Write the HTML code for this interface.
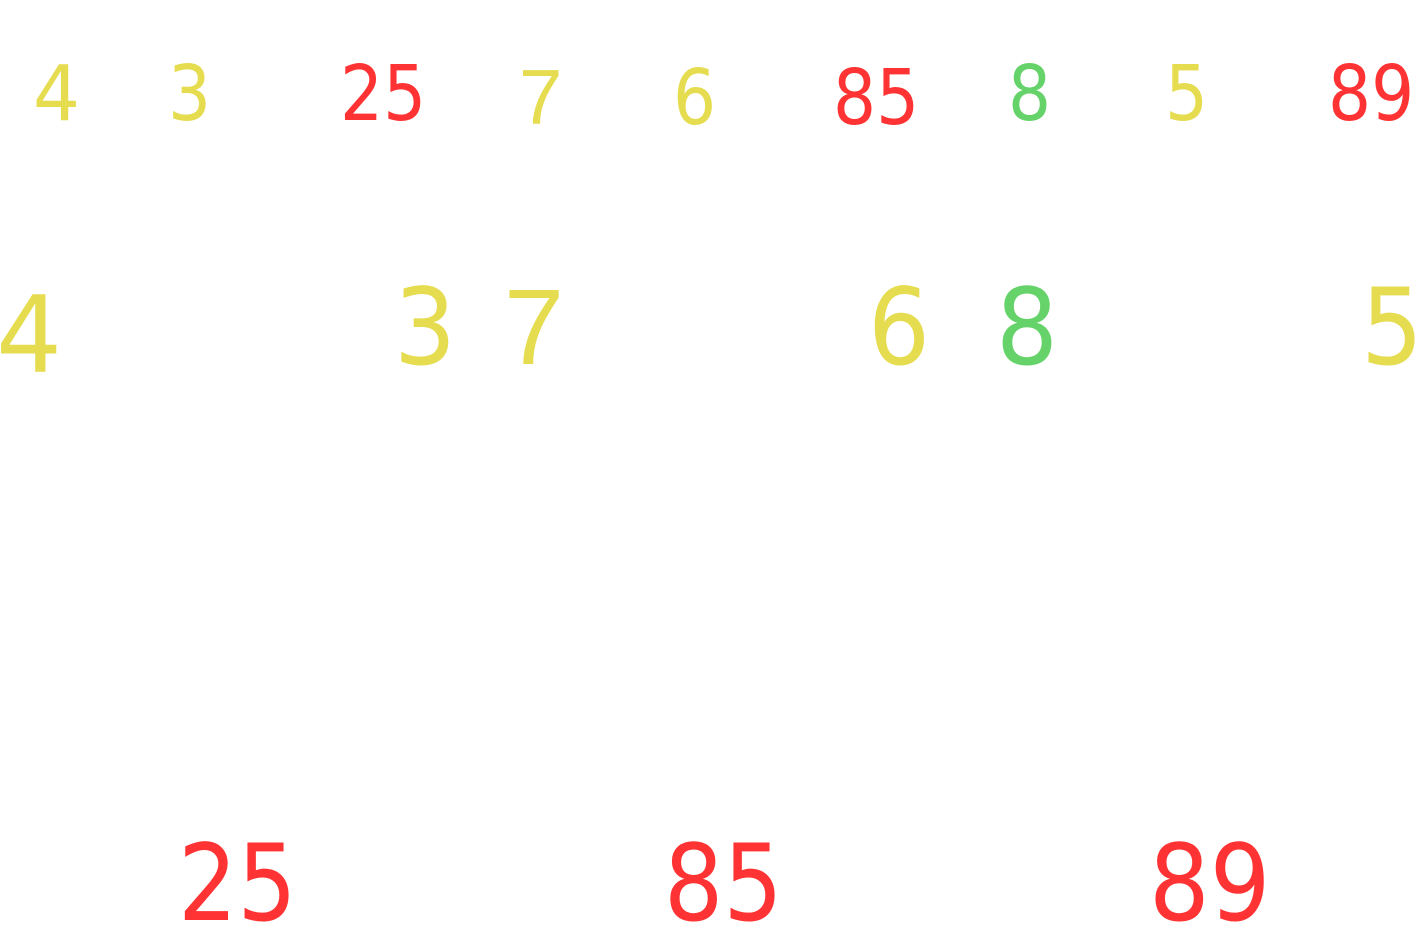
<!DOCTYPE html>
<html>
<head>
<meta charset="utf-8">
<style>
html,body{margin:0;padding:0;background:#fff;width:1424px;height:948px;overflow:hidden}
svg{display:block}
text{font-family:"DejaVu Sans",sans-serif}
.y{fill:#e6dc50}.r{fill:#ff3333}.g{fill:#66d36a}
.s{font-size:77px}.b{font-size:106px}
.l{font-family:"Liberation Sans",sans-serif}
.s.l{font-size:78px}.b.l{font-size:108px}
</style>
</head>
<body>
<svg width="1424" height="948" viewBox="0 0 1424 948">
<text class="s y" transform="translate(33 120) scale(.96 1)">4</text>
<text class="s y" transform="translate(168 120) scale(.88 1)">3</text>
<text class="s r" transform="translate(340 120) scale(.88 1)">25</text>
<text class="s y l" x="519" y="124">7</text>
<text class="s y" transform="translate(673 124) scale(.88 1)">6</text>
<text class="s r" transform="translate(833 124) scale(.88 1)">85</text>
<text class="s g" transform="translate(1008 120) scale(.88 1)">8</text>
<text class="s y" transform="translate(1165 120) scale(.88 1)">5</text>
<text class="s r" transform="translate(1328 120) scale(.88 1)">89</text>
<text class="b y" transform="translate(-4 372) scale(.98 1)">4</text>
<text class="b y" transform="translate(394 364) scale(.92 1)">3</text>
<text class="b y l" x="504" y="364">7</text>
<text class="b y" transform="translate(868 364) scale(.92 1)">6</text>
<text class="b g" transform="translate(996 364) scale(.92 1)">8</text>
<text class="b y" transform="translate(1361 364) scale(.92 1)">5</text>
<text class="b r" transform="translate(178 920) scale(.88 1)">25</text>
<text class="b r" transform="translate(664 920) scale(.88 1)">85</text>
<text class="b r" transform="translate(1149 920) scale(.9 1)">89</text>
</svg>
</body>
</html>
